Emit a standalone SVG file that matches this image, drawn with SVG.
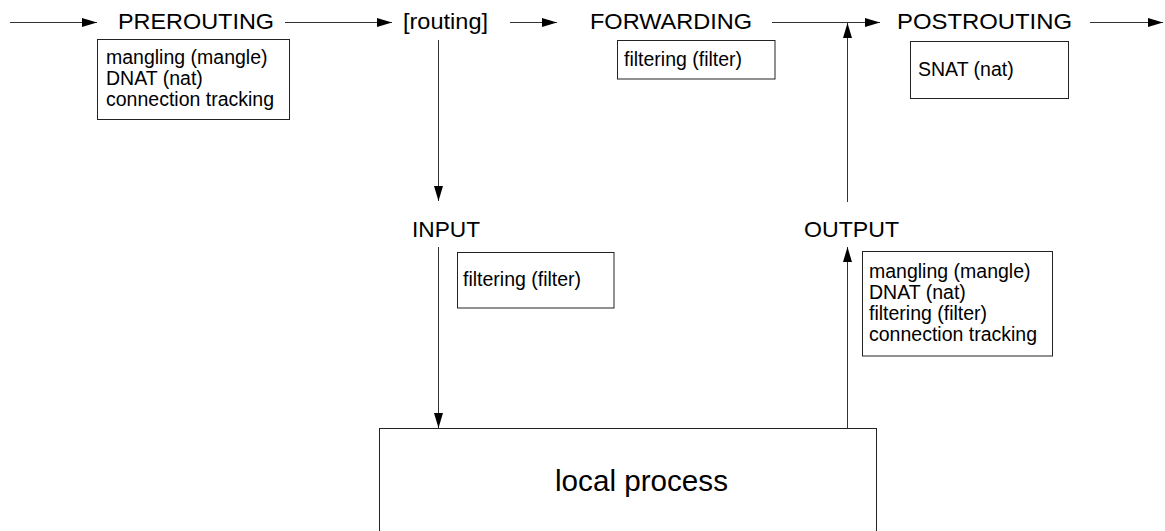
<svg xmlns="http://www.w3.org/2000/svg" width="1165" height="531" viewBox="0 0 1165 531">
  <style>
    .chain { font-family: "Liberation Sans", Arial, sans-serif; font-size: 21.5px; fill: #000; }
    .tbl { font-family: "Liberation Sans", Arial, sans-serif; font-size: 19.5px; fill: #000; }
    .big { font-family: "Liberation Sans", Arial, sans-serif; font-size: 30px; fill: #000; }
    .box { fill: #fff; stroke: #222; stroke-width: 1; }
    .wire { fill: none; stroke: #333; stroke-width: 1; marker-end: url(#head); }
  </style>
  <defs>
    <marker id="head" markerUnits="userSpaceOnUse" markerWidth="16" markerHeight="10" refX="15" refY="5" orient="auto">
      <path d="M0,0.5 L15,5 L0,9.5 z" fill="#000"/>
    </marker>
  </defs>
  <rect width="1165" height="531" fill="#fff"/>

  <!-- packet path connectors -->
  <g id="connectors">
    <path class="wire" d="M10 22.5 H97"/>
    <path class="wire" d="M285 22.5 H392"/>
    <path class="wire" d="M510 22.5 H557"/>
    <path class="wire" d="M772 22.5 H880"/>
    <path class="wire" d="M1090 22.5 H1163"/>
    <path class="wire" d="M438.5 40 V201"/>
    <path class="wire" d="M438.5 247 V428"/>
    <path class="wire" d="M847.5 428 V247"/>
    <path class="wire" d="M847.5 202 V23"/>
  </g>

  <g id="prerouting">
    <text class="chain" x="118" y="28.5" textLength="156" lengthAdjust="spacingAndGlyphs">PREROUTING</text>
    <rect class="box" x="97.5" y="39.5" width="192" height="80"/>
    <text class="tbl" x="106" y="63.5">mangling (mangle)</text>
    <text class="tbl" x="106" y="84.5">DNAT (nat)</text>
    <text class="tbl" x="106" y="105.5">connection tracking</text>
  </g>

  <g id="routing">
    <text class="chain" x="403" y="28.5" textLength="85" lengthAdjust="spacingAndGlyphs">[routing]</text>
  </g>

  <g id="forwarding">
    <text class="chain" x="590" y="28.5" textLength="162" lengthAdjust="spacingAndGlyphs">FORWARDING</text>
    <rect class="box" x="617.5" y="40.5" width="157.5" height="38.5"/>
    <text class="tbl" x="624" y="66">filtering (filter)</text>
  </g>

  <g id="postrouting">
    <text class="chain" x="897" y="28.5" textLength="175" lengthAdjust="spacingAndGlyphs">POSTROUTING</text>
    <rect class="box" x="910.5" y="41.5" width="158" height="57"/>
    <text class="tbl" x="918" y="76">SNAT (nat)</text>
  </g>

  <g id="input">
    <text class="chain" x="412" y="237" textLength="68" lengthAdjust="spacingAndGlyphs">INPUT</text>
    <rect class="box" x="457.5" y="252.5" width="156.5" height="55.5"/>
    <text class="tbl" x="463" y="286">filtering (filter)</text>
  </g>

  <g id="output">
    <text class="chain" x="804" y="237" textLength="95" lengthAdjust="spacingAndGlyphs">OUTPUT</text>
    <rect class="box" x="862.5" y="251.5" width="190" height="104.5"/>
    <text class="tbl" x="869" y="278">mangling (mangle)</text>
    <text class="tbl" x="869" y="299">DNAT (nat)</text>
    <text class="tbl" x="869" y="320">filtering (filter)</text>
    <text class="tbl" x="869" y="341">connection tracking</text>
  </g>

  <g id="local-process">
    <rect class="box" x="379.5" y="428.5" width="497" height="120"/>
    <text class="big" x="555" y="490.5" textLength="173" lengthAdjust="spacingAndGlyphs">local process</text>
  </g>
</svg>
